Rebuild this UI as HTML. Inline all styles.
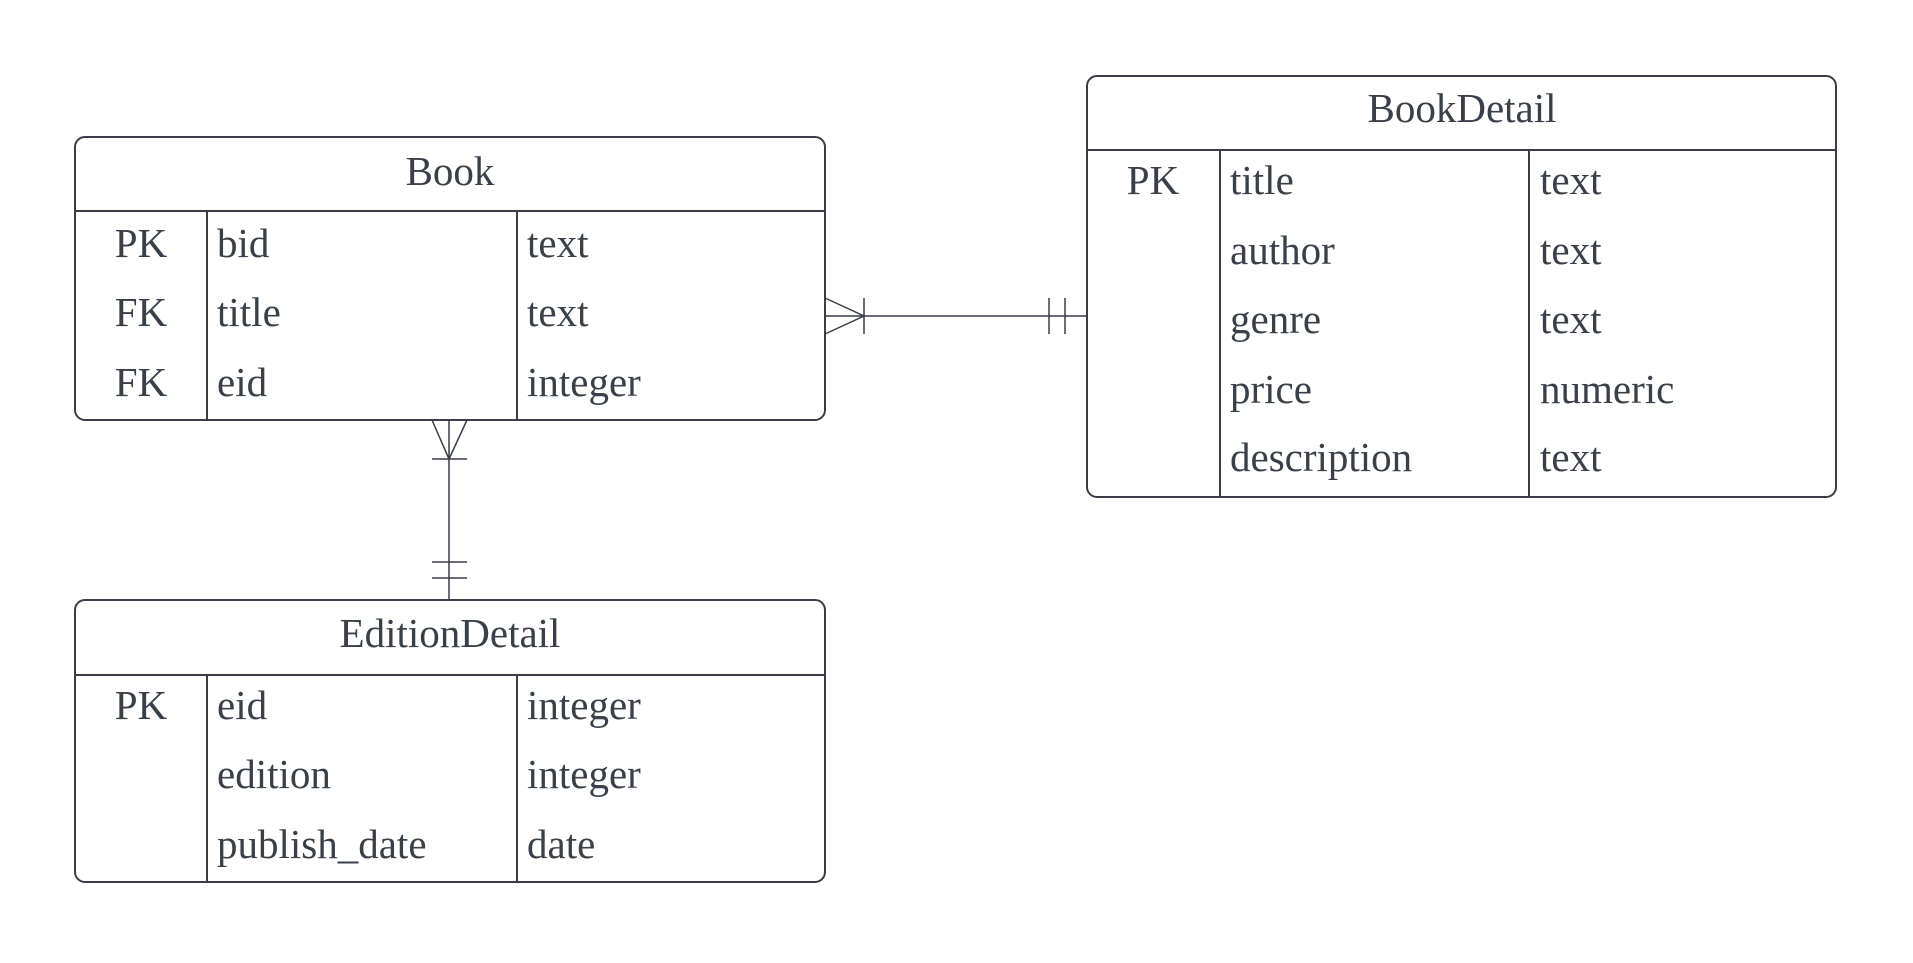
<!DOCTYPE html>
<html><head><style>
body{margin:0;background:#fff}
text{font-family:"Liberation Serif",serif;font-size:41px;fill:#3a404a}
</style></head><body>
<svg width="1913" height="958" xmlns="http://www.w3.org/2000/svg">
<g fill="none" stroke="#3a3d48" stroke-width="2">
<rect x="75" y="137" width="750" height="283" rx="10"/>
<line x1="75" y1="211" x2="825" y2="211"/>
<line x1="207" y1="211" x2="207" y2="420"/>
<line x1="517" y1="211" x2="517" y2="420"/>
<rect x="1087" y="76" width="749" height="421" rx="10"/>
<line x1="1087" y1="150" x2="1836" y2="150"/>
<line x1="1220" y1="150" x2="1220" y2="497"/>
<line x1="1529" y1="150" x2="1529" y2="497"/>
<rect x="75" y="600" width="750" height="282" rx="10"/>
<line x1="75" y1="675" x2="825" y2="675"/>
<line x1="207" y1="675" x2="207" y2="882"/>
<line x1="517" y1="675" x2="517" y2="882"/>
</g>
<g fill="none" stroke="#3a3d48" stroke-width="1.5">
<line x1="825" y1="316" x2="1087" y2="316"/>
<polyline points="825,298 864,316 825,334"/>
<line x1="864" y1="298" x2="864" y2="334"/>
<line x1="1049" y1="298" x2="1049" y2="334"/>
<line x1="1065" y1="298" x2="1065" y2="334"/>
<line x1="449" y1="420" x2="449" y2="600"/>
<polyline points="432,420 449,459 467,420"/>
<line x1="432" y1="459" x2="467" y2="459"/>
<line x1="432" y1="562" x2="467" y2="562"/>
<line x1="432" y1="578" x2="467" y2="578"/>
</g>
<g dominant-baseline="central">
<text x="450" y="171" text-anchor="middle">Book</text>
<text x="141" y="243" text-anchor="middle">PK</text><text x="217" y="243">bid</text><text x="527" y="243">text</text>
<text x="141" y="312" text-anchor="middle">FK</text><text x="217" y="312">title</text><text x="527" y="312">text</text>
<text x="141" y="382" text-anchor="middle">FK</text><text x="217" y="382">eid</text><text x="527" y="382">integer</text>

<text x="1462" y="108" text-anchor="middle">BookDetail</text>
<text x="1153" y="180" text-anchor="middle">PK</text><text x="1230" y="180">title</text><text x="1540" y="180">text</text>
<text x="1230" y="250">author</text><text x="1540" y="250">text</text>
<text x="1230" y="319">genre</text><text x="1540" y="319">text</text>
<text x="1230" y="389">price</text><text x="1540" y="389">numeric</text>
<text x="1230" y="457">description</text><text x="1540" y="457">text</text>

<text x="450" y="633" text-anchor="middle">EditionDetail</text>
<text x="141" y="705" text-anchor="middle">PK</text><text x="217" y="705">eid</text><text x="527" y="705">integer</text>
<text x="217" y="774">edition</text><text x="527" y="774">integer</text>
<text x="217" y="844">publish_date</text><text x="527" y="844">date</text>
</g>
</svg>
</body></html>
